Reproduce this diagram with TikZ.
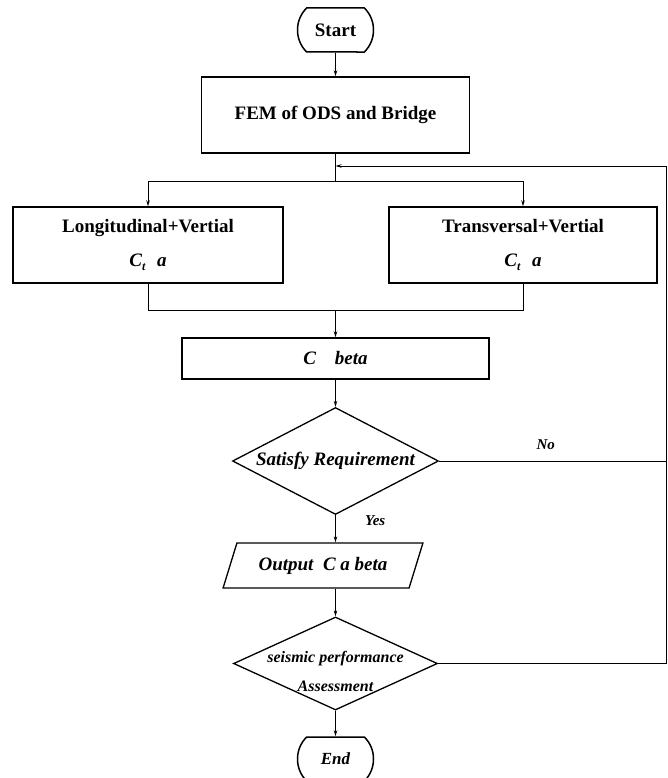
\documentclass[tikz,border=0pt]{standalone}
\usepackage{fontspec}
\setmainfont{Liberation Serif}
\usetikzlibrary{shapes.geometric,shapes.misc,arrows.meta}

\newcommand{\ctsub}{\textit{C}\raisebox{-0.45ex}{\fontsize{12}{12}\selectfont\textit{t}}\hspace{0.6em}\textit{a}}

\begin{document}
\begin{tikzpicture}[x=1pt, y=-1pt, >={Stealth[length=6pt,width=3.5pt]},
    box/.style={draw, line width=1.5pt, inner sep=0pt, align=center,
        font=\fontsize{19}{34}\selectfont\bfseries},
    term/.style={box, rounded rectangle, rounded rectangle arc length=90,
        minimum width=76pt, minimum height=44pt},
    decision/.style={draw, line width=1.3pt, diamond, inner sep=0pt, shape aspect=2,
        font=\fontsize{19}{23}\selectfont\bfseries\itshape},
    io/.style={draw, line width=1.3pt, trapezium, trapezium left angle=59,
        trapezium right angle=121, trapezium stretches=true, inner sep=0pt,
        font=\fontsize{19}{23}\selectfont\bfseries\itshape},
    flow/.style={line width=0.8pt},
    tag/.style={font=\fontsize{15}{18}\selectfont\bfseries\itshape}]
    \useasboundingbox (0,0) rectangle (668,778);

    \node[term] (start) at (335.5,30) {Start};
    \node[box, minimum width=268pt, minimum height=76pt] (fem) at (335.5,115) {FEM of ODS and Bridge};
    \node[box, minimum width=270pt, minimum height=76pt] (lbox) at (148,245)
        {Longitudinal+Vertial\\\ctsub};
    \node[box, minimum width=268pt, minimum height=76pt] (rbox) at (523,245)
        {Transversal+Vertial\\\ctsub};
    \node[box, minimum width=307pt, minimum height=41pt, font=\fontsize{19}{23}\selectfont\bfseries\itshape] (cbeta) at (335.5,358.5)
        {C\hspace{1em}beta};
    \node[decision, minimum width=206pt, minimum height=107pt] (sat) at (335.5,461) {Satisfy Requirement};
    \node[io, minimum width=200pt, minimum height=45pt] (out) at (323,565.5) {Output~ C a beta};
    \node[decision, minimum width=204pt, minimum height=93pt,
        label={[align=center, yshift=-8pt, font=\fontsize{16}{29}\selectfont\bfseries\itshape]center:seismic performance\\Assessment}]
        (assess) at (335.5,663.5) {};
    \node[term, font=\fontsize{17}{20}\selectfont\bfseries\itshape] (end) at (335.5,759) {End};

    \coordinate (split) at (335.5,181);
    \coordinate (merge) at (335.5,310);
    \coordinate (rt) at (666,166);

    \draw[flow, ->] (start) -- (fem);
    \draw[flow] (fem) -- (split);
    \draw[flow, ->] (split) -| (lbox.north);
    \draw[flow, ->] (split) -| (rbox.north);
    \draw[flow] (lbox.south) |- (merge);
    \draw[flow] (rbox.south) |- (merge);
    \draw[flow, ->] (merge) -- (cbeta);
    \draw[flow, ->] (cbeta) -- (sat);
    \draw[flow, ->] (sat) -- node[tag, pos=0.2, right=26pt] {Yes} (sat.south |- out.north);
    \draw[flow, ->] (out.south -| sat.south) -- (assess);
    \draw[flow, ->] (assess) -- (end);

    \draw[flow] (sat.east) -- node[tag, pos=0.47, above=8pt] {No} (sat.east -| rt);
    \draw[flow, ->] (assess.east) -- (assess.east -| rt) -- (rt) -- (rt -| fem.south);
\end{tikzpicture}
\end{document}
